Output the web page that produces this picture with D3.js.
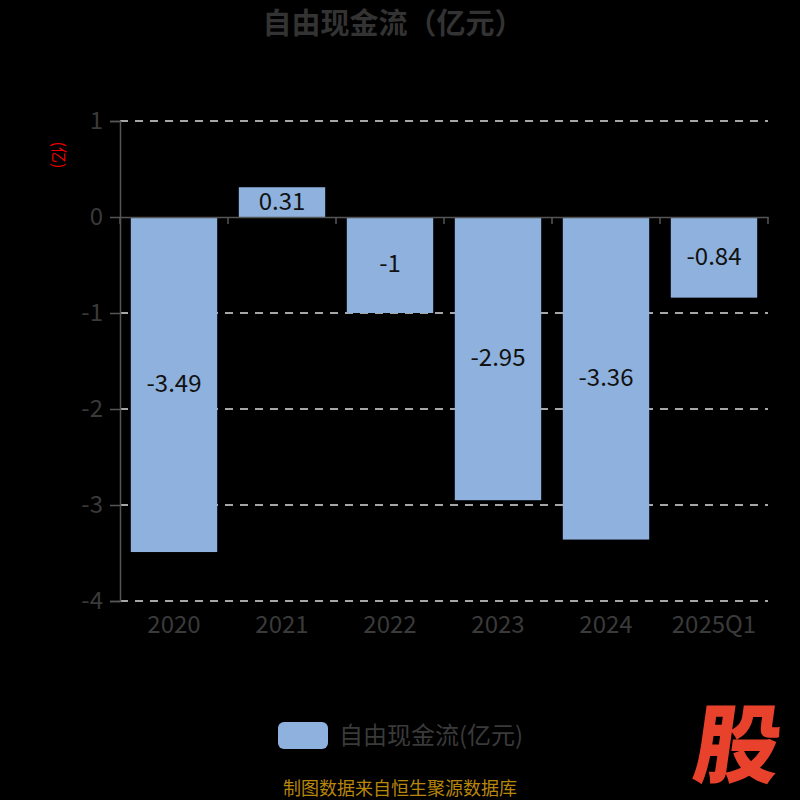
<!DOCTYPE html>
<html><head><meta charset="utf-8">
<script src="https://cdn.jsdelivr.net/npm/d3@7/dist/d3.min.js"></script>
<style>html,body{margin:0;padding:0;background:#000;}svg{display:block;}</style>
</head><body>
<script>
const categories = ["2020","2021","2022","2023","2024","2025Q1"];
const values = [-3.49, 0.31, -1, -2.95, -3.36, -0.84];
const yTicks = [1, 0, -1, -2, -3, -4];
const title = "自由现金流（亿元）";
const seriesName = "自由现金流(亿元)";
const unitLabel = "(亿)";
const sourceText = "制图数据来自恒生聚源数据库";

const W = 800, H = 800;
const font = "'Noto Sans CJK SC','Noto Sans',sans-serif";
const svg = d3.select("body").append("svg").attr("width", W).attr("height", H).style("background","#000");

const x = d3.scaleBand().domain(categories).range([120, 768]).paddingInner(0.2).paddingOuter(0.1);
const y = d3.scaleLinear().domain([-4, 1]).range([601, 121]);

// gridlines
svg.append("g").selectAll("line").data(yTicks.filter(d => d !== 0)).join("line")
  .attr("x1", 120).attr("x2", 768).attr("y1", d => y(d)).attr("y2", d => y(d))
  .attr("stroke", "#ddd").attr("stroke-width", 1.5).attr("stroke-dasharray", "8,7");

// bars
svg.append("g").selectAll("rect").data(values).join("rect")
  .attr("x", (d,i) => x(categories[i]))
  .attr("width", x.bandwidth())
  .attr("y", d => y(Math.max(0, d)))
  .attr("height", d => Math.abs(y(d) - y(0)))
  .attr("fill", "#8eb1dd");

// value labels
svg.append("g").selectAll("text").data(values).join("text")
  .attr("x", (d,i) => x(categories[i]) + x.bandwidth()/2)
  .attr("y", d => (y(d) + y(0))/2 - 1)
  .attr("dy", "0.35em")
  .attr("text-anchor", "middle")
  .attr("font-family", font).attr("font-size", 24).attr("fill", "#111")
  .text(d => String(d));

// y axis
const yAxis = svg.append("g").attr("transform", "translate(120,0)")
  .call(d3.axisLeft(y).tickValues(yTicks).tickSize(10).tickPadding(7).tickFormat(d => String(d)));
yAxis.select(".domain").attr("stroke", "#555").attr("stroke-width", 1.5);
yAxis.selectAll(".tick line").attr("stroke", "#555").attr("stroke-width", 1.5);
yAxis.selectAll(".tick text").attr("font-family", font).attr("font-size", 24).attr("fill", "#3a3a3a");

// x axis at 0
const xAxis = svg.append("g").attr("transform", `translate(0,${y(0)})`)
  .call(d3.axisBottom(x).tickSize(0).tickFormat(""));
xAxis.select(".domain").attr("stroke", "#555").attr("stroke-width", 1.5);
const bounds = categories.map(c => x(c) - x.step()*x.paddingInner()/2).concat([768]);
svg.append("g").selectAll("line").data(bounds).join("line")
  .attr("x1", d => d).attr("x2", d => d).attr("y1", y(0)).attr("y2", y(0) + 7)
  .attr("stroke", "#555").attr("stroke-width", 1.5);

// category labels at bottom
svg.append("g").selectAll("text").data(categories).join("text")
  .attr("x", d => x(d) + x.bandwidth()/2).attr("y", 625)
  .attr("dy", "0.35em").attr("text-anchor", "middle")
  .attr("font-family", font).attr("font-size", 24).attr("fill", "#3a3a3a")
  .text(d => d);

// title
svg.append("text").attr("x", 393).attr("y", 24).attr("dy", "0.35em").attr("text-anchor", "middle")
  .attr("font-family", font).attr("font-size", 29).attr("font-weight", "bold").attr("fill", "#333")
  .text(title);

// unit label
svg.append("text").attr("transform", "translate(59,155) rotate(90)")
  .attr("text-anchor", "middle").attr("dy", "0.35em")
  .attr("font-family", font).attr("font-size", 16).attr("fill", "#e00")
  .text(unitLabel);

// legend
svg.append("rect").attr("x", 278).attr("y", 722).attr("width", 50).attr("height", 27).attr("rx", 6)
  .attr("fill", "#8eb1dd");
svg.append("text").attr("x", 339).attr("y", 735.5).attr("dy", "0.35em")
  .attr("font-family", font).attr("font-size", 24).attr("fill", "#3a3a3a").text(seriesName);

// watermark
svg.append("text").attr("x", 738).attr("y", 746).attr("dy", "0.35em").attr("text-anchor", "middle")
  .attr("font-family", font).attr("font-size", 86).attr("font-weight", "900").attr("fill", "#e8412c")
  .attr("transform", "skewX(-8)").attr("transform-origin", "738px 746px")
  .text("股");

// source
svg.append("text").attr("x", 400).attr("y", 789).attr("dy", "0.35em").attr("text-anchor", "middle")
  .attr("font-family", font).attr("font-size", 18).attr("fill", "#b8860b").text(sourceText);
</script>
</body></html>
